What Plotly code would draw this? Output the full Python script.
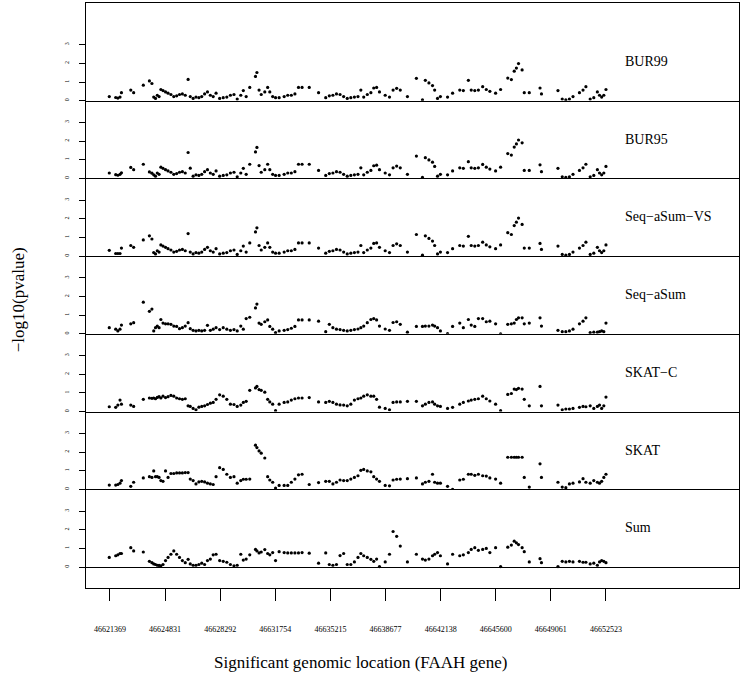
import plotly.graph_objects as go
from plotly.subplots import make_subplots

# SNP positions along the FAAH gene (bp)
positions = [
    46621324, 46621729, 46621864, 46621999, 46622089, 46622675, 46622855, 46623462, 46623845, 46624003,
    46624115, 46624228, 46624340, 46624453, 46624565, 46624700, 46624858, 46625016, 46625196, 46625376,
    46625556, 46625736, 46625916, 46626096, 46626276, 46626411, 46626591, 46626771, 46626952, 46627132,
    46627312, 46627492, 46627672, 46627852, 46628032, 46628257, 46628482, 46628707, 46628932, 46629157,
    46629360, 46629585, 46629743, 46629923, 46630148, 46630508, 46630598, 46630733, 46630868, 46631093,
    46631273, 46631408, 46631588, 46631769, 46631994, 46632309, 46632534, 46632759, 46632984, 46633209,
    46633434, 46633884, 46634470, 46634920, 46635145, 46635370, 46635595, 46635820, 46636046, 46636271,
    46636496, 46636721, 46636946, 46637126, 46637306, 46637531, 46637756, 46637936, 46638116, 46638296,
    46638656, 46638926, 46639151, 46639376, 46639602, 46640052, 46640615, 46640997, 46641177, 46641403,
    46641628, 46641763, 46641943, 46642123, 46642573, 46642889, 46643339, 46643564, 46643879, 46644059,
    46644284, 46644509, 46644779, 46645005, 46645230, 46645590, 46645905, 46646355, 46646580, 46646760,
    46646896, 46647030, 46647256, 46647391, 46647706, 46648381, 46648471, 46649507, 46649777, 46650002,
    46650227, 46650452, 46650857, 46651082, 46651262, 46651532, 46651758, 46651983, 46652118, 46652253,
    46652388, 46652523,
]

# -log10(pvalue) per method
bur99 = [
    0.22, 0.17, 0.14, 0.19, 0.43, 0.57, 0.43, 0.83, 1.06, 0.92,
    0.19, 0.12, 0.29, 0.22, 0.60, 0.54, 0.47, 0.40, 0.33, 0.22,
    0.26, 0.33, 0.36, 0.29, 1.14, 0.22, 0.12, 0.19, 0.16, 0.22,
    0.36, 0.47, 0.29, 0.22, 0.40, 0.12, 0.16, 0.19, 0.29, 0.33,
    0.09, 0.29, 0.54, 0.22, 0.71, 1.30, 1.51, 0.57, 0.33, 0.47,
    0.71, 0.47, 0.22, 0.16, 0.16, 0.22, 0.29, 0.29, 0.36, 0.71,
    0.71, 0.71, 0.43, 0.16, 0.26, 0.29, 0.36, 0.33, 0.22, 0.12,
    0.16, 0.19, 0.22, 0.57, 0.19, 0.33, 0.43, 0.68, 0.71, 0.47,
    0.29, 0.19, 0.57, 0.66, 0.57, 0.22, 1.20, 0.05, 1.09, 0.95,
    0.81, 0.57, 0.12, 0.22, 0.19, 0.40, 0.57, 0.54, 1.09, 0.57,
    0.54, 0.57, 0.75, 0.60, 0.50, 0.40, 0.60, 1.21, 1.13, 1.58,
    1.75, 1.99, 1.65, 0.43, 0.43, 0.68, 0.36, 0.54, 0.09, 0.05,
    0.09, 0.22, 0.43, 0.57, 0.75, 0.09, 0.16, 0.47, 0.29, 0.19,
    0.29, 0.60,
]
bur95 = [
    0.29, 0.20, 0.17, 0.22, 0.30, 0.59, 0.47, 0.76, 0.35, 0.28,
    0.19, 0.12, 0.29, 0.22, 0.60, 0.54, 0.47, 0.40, 0.33, 0.22,
    0.26, 0.33, 0.36, 0.29, 1.39, 0.55, 0.12, 0.19, 0.16, 0.22,
    0.36, 0.47, 0.29, 0.22, 0.40, 0.12, 0.16, 0.19, 0.29, 0.33,
    0.09, 0.29, 0.54, 0.22, 0.76, 1.42, 1.66, 0.69, 0.33, 0.47,
    0.76, 0.47, 0.22, 0.16, 0.16, 0.22, 0.29, 0.29, 0.36, 0.76,
    0.76, 0.76, 0.43, 0.16, 0.26, 0.29, 0.36, 0.33, 0.22, 0.12,
    0.16, 0.19, 0.22, 0.57, 0.19, 0.33, 0.43, 0.68, 0.71, 0.47,
    0.29, 0.19, 0.57, 0.66, 0.57, 0.22, 1.20, 0.05, 1.11, 0.99,
    0.87, 0.64, 0.12, 0.22, 0.19, 0.40, 0.57, 0.54, 0.90, 0.57,
    0.54, 0.57, 0.75, 0.60, 0.50, 0.40, 0.60, 1.33, 1.25, 1.68,
    1.85, 2.06, 1.91, 0.43, 0.43, 0.73, 0.36, 0.54, 0.09, 0.05,
    0.09, 0.22, 0.43, 0.57, 0.76, 0.09, 0.16, 0.47, 0.29, 0.19,
    0.29, 0.64,
]
seq_asum_vs = [
    0.31, 0.14, 0.14, 0.14, 0.43, 0.57, 0.47, 0.87, 1.09, 0.92,
    0.19, 0.12, 0.29, 0.22, 0.60, 0.54, 0.47, 0.40, 0.33, 0.22,
    0.26, 0.33, 0.36, 0.29, 1.21, 0.22, 0.12, 0.19, 0.16, 0.22,
    0.36, 0.47, 0.29, 0.22, 0.40, 0.12, 0.16, 0.19, 0.29, 0.33,
    0.09, 0.29, 0.54, 0.22, 0.71, 1.30, 1.52, 0.57, 0.33, 0.47,
    0.71, 0.47, 0.22, 0.16, 0.16, 0.22, 0.29, 0.29, 0.36, 0.71,
    0.71, 0.71, 0.43, 0.16, 0.26, 0.29, 0.36, 0.33, 0.22, 0.12,
    0.16, 0.19, 0.22, 0.57, 0.19, 0.33, 0.43, 0.68, 0.71, 0.47,
    0.29, 0.19, 0.57, 0.66, 0.57, 0.22, 1.16, 0.05, 1.09, 0.95,
    0.81, 0.57, 0.12, 0.22, 0.19, 0.40, 0.57, 0.54, 1.06, 0.57,
    0.54, 0.57, 0.75, 0.60, 0.50, 0.40, 0.60, 1.26, 1.16, 1.64,
    1.82, 2.04, 1.70, 0.43, 0.43, 0.68, 0.36, 0.54, 0.09, 0.05,
    0.09, 0.22, 0.43, 0.57, 0.75, 0.09, 0.16, 0.47, 0.29, 0.19,
    0.29, 0.60,
]
seq_asum = [
    0.33, 0.25, 0.16, 0.25, 0.47, 0.54, 0.60, 1.70, 1.21, 1.33,
    0.16, 0.33, 0.42, 0.33, 0.77, 0.58, 0.54, 0.54, 0.51, 0.42,
    0.40, 0.28, 0.33, 0.42, 0.60, 0.28, 0.19, 0.16, 0.19, 0.16,
    0.19, 0.46, 0.19, 0.25, 0.33, 0.23, 0.33, 0.25, 0.19, 0.23,
    0.16, 0.42, 0.25, 0.82, 0.89, 1.39, 1.60, 0.58, 0.51, 0.65,
    0.75, 0.40, 0.25, 0.07, 0.16, 0.19, 0.23, 0.30, 0.40, 0.75,
    0.75, 0.75, 0.68, 0.12, 0.51, 0.33, 0.25, 0.23, 0.19, 0.16,
    0.19, 0.23, 0.26, 0.33, 0.42, 0.60, 0.77, 0.82, 0.75, 0.42,
    0.26, 0.19, 0.61, 0.65, 0.51, 0.09, 0.40, 0.40, 0.42, 0.42,
    0.47, 0.42, 0.33, 0.16, 0.02, 0.40, 0.58, 0.33, 0.77, 0.47,
    0.40, 0.82, 0.82, 0.65, 0.68, 0.54, 0.00, 0.51, 0.54, 0.58,
    0.77, 0.86, 0.86, 0.54, 0.58, 0.86, 0.42, 0.19, 0.12, 0.12,
    0.16, 0.25, 0.54, 0.68, 0.86, 0.07, 0.09, 0.09, 0.12, 0.16,
    0.12, 0.58,
]
skat_c = [
    0.26, 0.23, 0.35, 0.62, 0.40, 0.35, 0.28, 0.66, 0.73, 0.71,
    0.73, 0.69, 0.76, 0.80, 0.73, 0.83, 0.75, 0.80, 0.87, 0.83,
    0.73, 0.69, 0.66, 0.69, 0.31, 0.28, 0.17, 0.10, 0.24, 0.28,
    0.31, 0.38, 0.45, 0.49, 0.66, 0.90, 0.83, 0.66, 0.40, 0.38,
    0.28, 0.35, 0.49, 0.55, 1.14, 1.27, 1.35, 1.18, 1.14, 1.04,
    0.66, 0.52, 0.40, 0.05, 0.40, 0.49, 0.52, 0.62, 0.69, 0.73,
    0.73, 0.75, 0.52, 0.49, 0.55, 0.49, 0.40, 0.36, 0.35, 0.31,
    0.40, 0.62, 0.69, 0.73, 0.83, 0.90, 0.83, 0.83, 0.66, 0.24,
    0.17, 0.10, 0.49, 0.52, 0.52, 0.55, 0.55, 0.31, 0.40, 0.49,
    0.52, 0.40, 0.31, 0.28, 0.17, 0.23, 0.40, 0.49, 0.57, 0.62,
    0.66, 0.69, 0.83, 0.69, 0.57, 0.40, 0.05, 0.92, 0.97, 1.21,
    1.18, 1.25, 1.21, 0.66, 0.31, 1.35, 0.31, 0.35, 0.10, 0.14,
    0.14, 0.17, 0.23, 0.28, 0.26, 0.31, 0.17, 0.28, 0.35, 0.17,
    0.31, 0.78,
]
skat = [
    0.23, 0.23, 0.26, 0.33, 0.47, 0.16, 0.38, 0.61, 0.68, 0.64,
    0.99, 0.68, 0.68, 0.64, 0.47, 0.43, 0.99, 0.64, 0.85, 0.85,
    0.88, 0.88, 0.88, 0.90, 0.90, 0.55, 0.47, 0.29, 0.40, 0.43,
    0.40, 0.33, 0.29, 0.26, 0.68, 1.16, 1.07, 0.81, 0.64, 0.68,
    0.33, 0.47, 0.54, 0.54, 0.55, 2.37, 2.24, 2.06, 1.94, 1.68,
    0.68, 0.50, 0.38, 0.07, 0.21, 0.21, 0.21, 0.38, 0.55, 0.78,
    0.81, 0.26, 0.36, 0.43, 0.43, 0.29, 0.38, 0.50, 0.47, 0.47,
    0.55, 0.64, 0.73, 1.02, 1.07, 0.99, 0.94, 0.68, 0.55, 0.43,
    0.21, 0.19, 0.50, 0.54, 0.55, 0.57, 0.61, 0.29, 0.38, 0.43,
    0.81, 0.38, 0.33, 0.33, 0.16, 0.00, 0.50, 0.54, 0.81, 0.81,
    0.75, 0.81, 0.73, 0.71, 0.61, 0.55, 0.33, 1.72, 1.72, 1.72,
    1.72, 1.72, 1.72, 0.64, 0.12, 1.37, 0.64, 0.38, 0.12, 0.09,
    0.29, 0.33, 0.40, 0.57, 0.38, 0.33, 0.47, 0.38, 0.33, 0.43,
    0.64, 0.81,
]
sum_test = [
    0.52, 0.61, 0.66, 0.73, 0.73, 1.04, 0.87, 0.81, 0.31, 0.24,
    0.17, 0.14, 0.10, 0.09, 0.07, 0.14, 0.35, 0.52, 0.69, 0.87,
    0.69, 0.52, 0.35, 0.24, 0.42, 0.17, 0.10, 0.10, 0.14, 0.21,
    0.14, 0.35, 0.43, 0.66, 0.69, 0.35, 0.31, 0.26, 0.14, 0.07,
    0.10, 0.69, 0.38, 0.43, 0.66, 0.95, 0.87, 0.76, 0.81, 0.94,
    0.73, 0.66, 0.78, 0.35, 0.83, 0.78, 0.76, 0.76, 0.76, 0.76,
    0.78, 0.75, 0.21, 0.76, 0.14, 0.10, 0.14, 0.62, 0.73, 0.14,
    0.14, 0.28, 0.52, 0.73, 0.61, 0.52, 0.42, 0.31, 0.43, 0.03,
    0.28, 0.69, 1.91, 1.65, 1.13, 0.28, 0.69, 0.43, 0.38, 0.43,
    0.61, 0.69, 0.78, 0.61, 0.17, 0.69, 0.61, 0.66, 0.78, 0.95,
    1.04, 0.90, 0.95, 1.00, 0.78, 1.04, 0.03, 1.07, 1.18, 1.39,
    1.30, 1.21, 1.04, 0.83, 0.28, 0.45, 0.24, 0.03, 0.31, 0.28,
    0.31, 0.28, 0.31, 0.26, 0.26, 0.17, 0.21, 0.10, 0.28, 0.35,
    0.31, 0.24,
]

methods = ["BUR99", "BUR95", "Seq\u2212aSum\u2212VS", "Seq\u2212aSum", "SKAT\u2212C", "SKAT", "Sum"]
series = [bur99, bur95, seq_asum_vs, seq_asum, skat_c, skat, sum_test]

tick_positions = [46621369, 46624831, 46628292, 46631754, 46635215,
                  46638677, 46642138, 46645600, 46649061, 46652523]
tick_labels = [str(t) for t in tick_positions]

serif = "Liberation Serif"
x_range = [46619862, 46660879]

fig = make_subplots(rows=7, cols=1, shared_xaxes=True, vertical_spacing=0,
                    row_heights=[98, 78, 78, 78, 78, 78, 99])

for i, (name, vals) in enumerate(zip(methods, series), start=1):
    fig.add_trace(go.Scatter(
        x=positions, y=vals, mode="markers", name=name,
        marker={"size": 3.2, "color": "black"},
        showlegend=False, hoverinfo="skip",
    ), row=i, col=1)

    if i == 1:
        yr = [0, 5.24]
    elif i == 7:
        yr = [-1.12, 4.17]
    else:
        yr = [0, 4.17]
    fig.update_yaxes(
        range=yr, tickvals=[0, 1, 2, 3], ticktext=["0", "1", "2", "3"],
        ticks="outside", ticklen=6, tickcolor="black", tickangle=-90,
        tickfont={"family": serif, "size": 6, "color": "black"},
        ticklabelstandoff=8,
        showline=True, mirror=True, linecolor="black", linewidth=1,
        zeroline=(i == 7), zerolinecolor="black", zerolinewidth=1,
        showgrid=False, fixedrange=True,
        row=i, col=1,
    )
    fig.update_xaxes(
        range=x_range, showline=True, mirror=(i == 1), linecolor="black", linewidth=1,
        showgrid=False, zeroline=False, showticklabels=False, ticks="",
        row=i, col=1,
    )
    fig.add_annotation(
        x=0.822, xref="paper", y=2.1, yref=f"y{i if i > 1 else ''}",
        text=name, showarrow=False, xanchor="left", yanchor="middle",
        font={"family": serif, "size": 14, "color": "black"},
    )

fig.update_xaxes(
    tickvals=tick_positions, ticktext=tick_labels, showticklabels=True,
    ticks="outside", ticklen=12, tickcolor="black",
    tickfont={"family": serif, "size": 8, "color": "black"},
    ticklabelstandoff=21,
    row=7, col=1,
)

fig.add_annotation(
    x=-0.104, xref="paper", y=0.492, yref="paper", text="\u2212log10(pvalue)",
    textangle=-90, showarrow=False, xanchor="center", yanchor="middle",
    font={"family": serif, "size": 17, "color": "black"},
)
fig.add_annotation(
    x=0.42, xref="paper", y=-0.128, yref="paper",
    text="Significant genomic location (FAAH gene)",
    showarrow=False, xanchor="center", yanchor="middle",
    font={"family": serif, "size": 17, "color": "black"},
)

fig.update_layout(
    width=745, height=681,
    margin={"l": 86, "r": 6, "t": 3, "b": 93},
    plot_bgcolor="white", paper_bgcolor="white",
    font={"family": serif, "color": "black"},
    hovermode=False,
)

fig.write_html("out.html", config={"displayModeBar": False, "staticPlot": True},
               post_script="document.body.style.margin='0';")
